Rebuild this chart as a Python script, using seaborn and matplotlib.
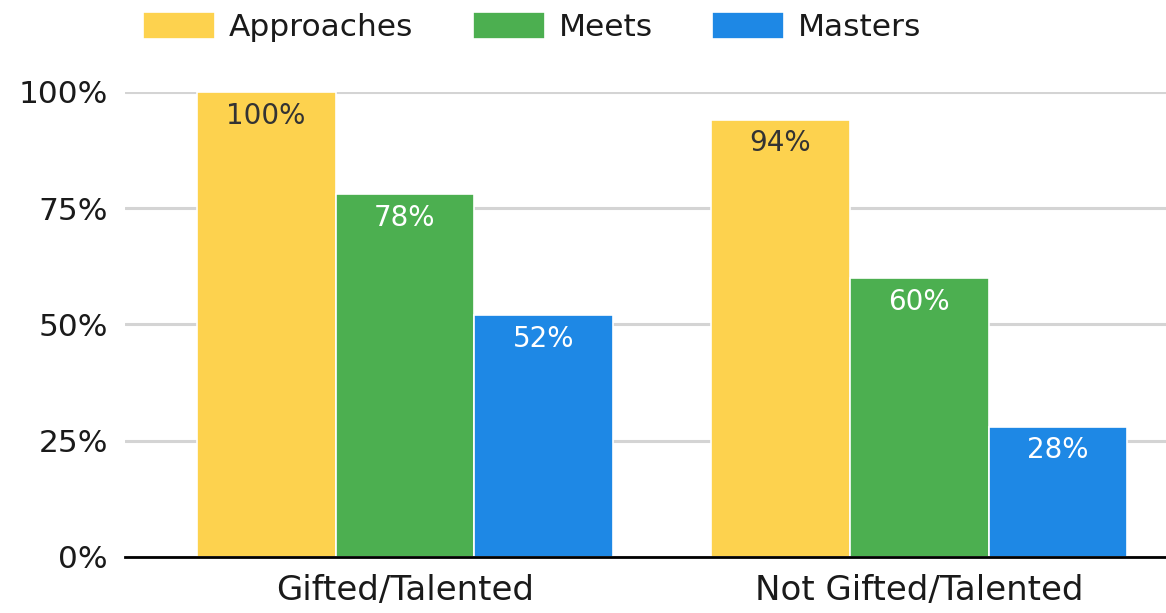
import pandas as pd
import seaborn as sb
import matplotlib
matplotlib.use("Agg")
import matplotlib.pyplot as plt

# Data
groups = ["Gifted/Talented", "Not Gifted/Talented"]
levels = ["Approaches", "Meets", "Masters"]
approaches = [100, 94]
meets = [78, 60]
masters = [52, 28]
colors = ["#FDD24E", "#4CAF50", "#1E88E5"]
label_colors = ["#333333", "white", "white"]

df = pd.DataFrame({
    "group": groups * 3,
    "level": [lv for lv in levels for _ in groups],
    "pct": approaches + meets + masters,
})

sb.set_style("white")
plt.rcParams["font.family"] = ["DejaVu Sans"]

fig = plt.figure(figsize=(11.66, 6.13), dpi=100)
ax = fig.add_axes([0.107, 0.0914, 0.893, 0.7586])

sb.barplot(data=df, x="group", y="pct", hue="level", hue_order=levels,
           palette=colors, edgecolor="white", linewidth=1.2, width=0.81,
           saturation=1, ax=ax)

ax.set_ylim(0, 100)
ax.set_xlim(-0.545, 1.48)
ax.set_yticks([0, 25, 50, 75, 100])
ax.set_yticklabels([f"{v}%" for v in [0, 25, 50, 75, 100]])
ax.yaxis.grid(True, color="#d4d4d4", linewidth=2.2)
ax.set_axisbelow(True)
ax.set_xlabel("")
ax.set_ylabel("")
for side in ["top", "right", "left"]:
    ax.spines[side].set_visible(False)
ax.spines["bottom"].set_color("black")
ax.spines["bottom"].set_linewidth(2)
ax.tick_params(axis="both", length=0, colors="#1a1a1a")
ax.tick_params(axis="y", labelsize=22.5, pad=12)
ax.tick_params(axis="x", labelsize=24.5, pad=12)

# value labels inside the top of each bar
for cont, lc in zip(ax.containers, label_colors):
    for bar in cont:
        h = bar.get_height()
        ax.annotate(f"{h:.0f}%", (bar.get_x() + bar.get_width() / 2, h),
                    xytext=(0, -17), textcoords="offset points",
                    ha="center", va="center", fontsize=20, color=lc)

leg = ax.legend(loc="center left", bbox_to_anchor=(143 / 1166, 1 - 27 / 613),
                bbox_transform=fig.transFigure, ncol=3, frameon=False,
                fontsize=22.5, handlelength=2.3, handleheight=0.95,
                handletextpad=0.45, columnspacing=1.9, borderaxespad=0,
                borderpad=0)
for t in leg.get_texts():
    t.set_color("#1a1a1a")

fig.savefig("out.png", dpi=100)
